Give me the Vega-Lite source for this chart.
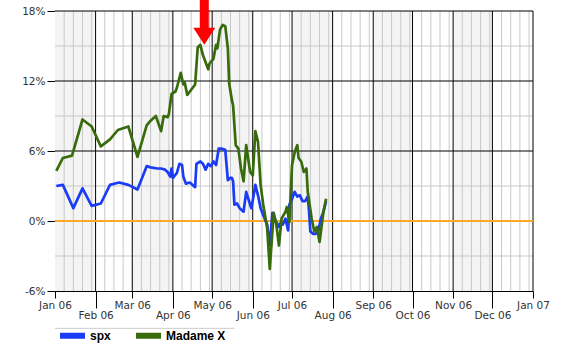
{
  "$schema": "https://vega.github.io/schema/vega-lite/v6.json",
  "width": 478,
  "height": 280,
  "autosize": {"type": "none"},
  "padding": {"left": 55, "top": 11, "right": 41, "bottom": 63},
  "background": "white",
  "config": {
    "view": {"stroke": null},
    "axis": {"labelFont": "DejaVu Sans", "labelFontSize": 10.5, "labelColor": "#333333", "domainColor": "#000000", "tickColor": "#000000", "grid": false, "title": null, "labelFlush": false, "labelOverlap": false}
  },
  "datasets": {
    "bands": [
      {"start": "2006-01-01", "end": "2006-02-01"},
      {"start": "2006-03-01", "end": "2006-04-01"},
      {"start": "2006-05-01", "end": "2006-06-01"},
      {"start": "2006-07-01", "end": "2006-08-01"},
      {"start": "2006-09-01", "end": "2006-10-01"},
      {"start": "2006-11-01", "end": "2006-12-01"}
    ],
    "minor": [
      {"d": "2006-01-08"}, {"d": "2006-01-15"}, {"d": "2006-01-22"}, {"d": "2006-01-29"},
      {"d": "2006-02-08"}, {"d": "2006-02-15"}, {"d": "2006-02-22"},
      {"d": "2006-03-08"}, {"d": "2006-03-15"}, {"d": "2006-03-22"}, {"d": "2006-03-29"},
      {"d": "2006-04-08"}, {"d": "2006-04-15"}, {"d": "2006-04-22"}, {"d": "2006-04-29"},
      {"d": "2006-05-08"}, {"d": "2006-05-15"}, {"d": "2006-05-22"}, {"d": "2006-05-29"},
      {"d": "2006-06-08"}, {"d": "2006-06-15"}, {"d": "2006-06-22"}, {"d": "2006-06-29"},
      {"d": "2006-07-08"}, {"d": "2006-07-15"}, {"d": "2006-07-22"}, {"d": "2006-07-29"},
      {"d": "2006-08-08"}, {"d": "2006-08-15"}, {"d": "2006-08-22"}, {"d": "2006-08-29"},
      {"d": "2006-09-08"}, {"d": "2006-09-15"}, {"d": "2006-09-22"}, {"d": "2006-09-29"},
      {"d": "2006-10-08"}, {"d": "2006-10-15"}, {"d": "2006-10-22"}, {"d": "2006-10-29"},
      {"d": "2006-11-08"}, {"d": "2006-11-15"}, {"d": "2006-11-22"}, {"d": "2006-11-29"},
      {"d": "2006-12-08"}, {"d": "2006-12-15"}, {"d": "2006-12-22"}, {"d": "2006-12-29"}
    ],
    "months": [
      {"d": "2006-02-01"}, {"d": "2006-03-01"}, {"d": "2006-04-01"}, {"d": "2006-05-01"},
      {"d": "2006-06-01"}, {"d": "2006-07-01"}, {"d": "2006-08-01"}, {"d": "2006-09-01"},
      {"d": "2006-10-01"}, {"d": "2006-11-01"}, {"d": "2006-12-01"}, {"d": "2007-01-01"}
    ],
    "perf": [
      {"d": "2006-01-02", "s": "spx", "v": 3.0},
      {"d": "2006-01-07", "s": "spx", "v": 3.1},
      {"d": "2006-01-15", "s": "spx", "v": 1.1},
      {"d": "2006-01-22", "s": "spx", "v": 2.8},
      {"d": "2006-01-29", "s": "spx", "v": 1.3},
      {"d": "2006-02-05", "s": "spx", "v": 1.5},
      {"d": "2006-02-12", "s": "spx", "v": 3.1},
      {"d": "2006-02-19", "s": "spx", "v": 3.3},
      {"d": "2006-02-26", "s": "spx", "v": 3.1},
      {"d": "2006-03-05", "s": "spx", "v": 2.7},
      {"d": "2006-03-12", "s": "spx", "v": 4.7},
      {"d": "2006-03-15", "s": "spx", "v": 4.6},
      {"d": "2006-03-20", "s": "spx", "v": 4.5},
      {"d": "2006-03-23", "s": "spx", "v": 4.5},
      {"d": "2006-03-26", "s": "spx", "v": 4.4},
      {"d": "2006-03-28", "s": "spx", "v": 4.2},
      {"d": "2006-03-30", "s": "spx", "v": 3.8},
      {"d": "2006-03-31", "s": "spx", "v": 4.5},
      {"d": "2006-04-01", "s": "spx", "v": 3.7},
      {"d": "2006-04-04", "s": "spx", "v": 4.1},
      {"d": "2006-04-06", "s": "spx", "v": 4.9},
      {"d": "2006-04-08", "s": "spx", "v": 4.8},
      {"d": "2006-04-09", "s": "spx", "v": 3.8},
      {"d": "2006-04-11", "s": "spx", "v": 3.2},
      {"d": "2006-04-14", "s": "spx", "v": 3.3},
      {"d": "2006-04-18", "s": "spx", "v": 2.9},
      {"d": "2006-04-19", "s": "spx", "v": 4.9},
      {"d": "2006-04-22", "s": "spx", "v": 5.1},
      {"d": "2006-04-24", "s": "spx", "v": 4.9},
      {"d": "2006-04-26", "s": "spx", "v": 4.4},
      {"d": "2006-04-28", "s": "spx", "v": 4.9},
      {"d": "2006-04-30", "s": "spx", "v": 4.7},
      {"d": "2006-05-02", "s": "spx", "v": 5.1},
      {"d": "2006-05-04", "s": "spx", "v": 4.8},
      {"d": "2006-05-06", "s": "spx", "v": 6.2},
      {"d": "2006-05-08", "s": "spx", "v": 6.2},
      {"d": "2006-05-11", "s": "spx", "v": 6.1},
      {"d": "2006-05-13", "s": "spx", "v": 3.5},
      {"d": "2006-05-15", "s": "spx", "v": 3.7},
      {"d": "2006-05-16", "s": "spx", "v": 3.7},
      {"d": "2006-05-17", "s": "spx", "v": 3.4},
      {"d": "2006-05-18", "s": "spx", "v": 1.4},
      {"d": "2006-05-20", "s": "spx", "v": 1.5},
      {"d": "2006-05-22", "s": "spx", "v": 1.1},
      {"d": "2006-05-25", "s": "spx", "v": 0.8},
      {"d": "2006-05-27", "s": "spx", "v": 2.5},
      {"d": "2006-05-30", "s": "spx", "v": 1.4},
      {"d": "2006-05-31", "s": "spx", "v": 1.1},
      {"d": "2006-06-03", "s": "spx", "v": 3.1},
      {"d": "2006-06-05", "s": "spx", "v": 2.2},
      {"d": "2006-06-07", "s": "spx", "v": 1.1},
      {"d": "2006-06-09", "s": "spx", "v": 0.5},
      {"d": "2006-06-12", "s": "spx", "v": -0.3},
      {"d": "2006-06-14", "s": "spx", "v": -2.1},
      {"d": "2006-06-16", "s": "spx", "v": 0.7},
      {"d": "2006-06-19", "s": "spx", "v": -0.1},
      {"d": "2006-06-21", "s": "spx", "v": -0.5},
      {"d": "2006-06-22", "s": "spx", "v": -0.2},
      {"d": "2006-06-24", "s": "spx", "v": -0.3},
      {"d": "2006-06-26", "s": "spx", "v": 0.2},
      {"d": "2006-06-28", "s": "spx", "v": -0.8},
      {"d": "2006-06-29", "s": "spx", "v": 1.4},
      {"d": "2006-07-01", "s": "spx", "v": 1.9},
      {"d": "2006-07-03", "s": "spx", "v": 2.5},
      {"d": "2006-07-05", "s": "spx", "v": 2.1},
      {"d": "2006-07-07", "s": "spx", "v": 2.2},
      {"d": "2006-07-09", "s": "spx", "v": 1.7},
      {"d": "2006-07-11", "s": "spx", "v": 1.7},
      {"d": "2006-07-13", "s": "spx", "v": 2.1},
      {"d": "2006-07-14", "s": "spx", "v": 0.8},
      {"d": "2006-07-15", "s": "spx", "v": -0.9},
      {"d": "2006-07-17", "s": "spx", "v": -1.1},
      {"d": "2006-07-19", "s": "spx", "v": -1.1},
      {"d": "2006-07-21", "s": "spx", "v": -0.9},
      {"d": "2006-07-23", "s": "spx", "v": 0.2},
      {"d": "2006-07-25", "s": "spx", "v": 0.8},
      {"d": "2006-07-27", "s": "spx", "v": 1.7},
      {"d": "2006-01-02", "s": "Madame X", "v": 4.3},
      {"d": "2006-01-07", "s": "Madame X", "v": 5.4},
      {"d": "2006-01-14", "s": "Madame X", "v": 5.6},
      {"d": "2006-01-22", "s": "Madame X", "v": 8.7},
      {"d": "2006-01-29", "s": "Madame X", "v": 8.1},
      {"d": "2006-02-05", "s": "Madame X", "v": 6.4},
      {"d": "2006-02-12", "s": "Madame X", "v": 7.0},
      {"d": "2006-02-18", "s": "Madame X", "v": 7.8},
      {"d": "2006-02-26", "s": "Madame X", "v": 8.1},
      {"d": "2006-03-05", "s": "Madame X", "v": 5.5},
      {"d": "2006-03-12", "s": "Madame X", "v": 8.2},
      {"d": "2006-03-15", "s": "Madame X", "v": 8.6},
      {"d": "2006-03-19", "s": "Madame X", "v": 9.0},
      {"d": "2006-03-23", "s": "Madame X", "v": 7.7},
      {"d": "2006-03-25", "s": "Madame X", "v": 9.0},
      {"d": "2006-03-28", "s": "Madame X", "v": 8.9},
      {"d": "2006-03-29", "s": "Madame X", "v": 9.2},
      {"d": "2006-03-31", "s": "Madame X", "v": 10.9},
      {"d": "2006-04-03", "s": "Madame X", "v": 11.1},
      {"d": "2006-04-04", "s": "Madame X", "v": 11.4},
      {"d": "2006-04-07", "s": "Madame X", "v": 12.7},
      {"d": "2006-04-09", "s": "Madame X", "v": 11.7},
      {"d": "2006-04-10", "s": "Madame X", "v": 11.9},
      {"d": "2006-04-12", "s": "Madame X", "v": 10.8},
      {"d": "2006-04-14", "s": "Madame X", "v": 11.1},
      {"d": "2006-04-18", "s": "Madame X", "v": 11.7},
      {"d": "2006-04-20", "s": "Madame X", "v": 14.9},
      {"d": "2006-04-22", "s": "Madame X", "v": 15.1},
      {"d": "2006-04-24", "s": "Madame X", "v": 14.2},
      {"d": "2006-04-28", "s": "Madame X", "v": 13.0},
      {"d": "2006-04-29", "s": "Madame X", "v": 13.5},
      {"d": "2006-05-02", "s": "Madame X", "v": 13.9},
      {"d": "2006-05-04", "s": "Madame X", "v": 15.1},
      {"d": "2006-05-05", "s": "Madame X", "v": 14.8},
      {"d": "2006-05-07", "s": "Madame X", "v": 16.4},
      {"d": "2006-05-09", "s": "Madame X", "v": 16.8},
      {"d": "2006-05-11", "s": "Madame X", "v": 16.7},
      {"d": "2006-05-13", "s": "Madame X", "v": 14.8},
      {"d": "2006-05-14", "s": "Madame X", "v": 11.8},
      {"d": "2006-05-16", "s": "Madame X", "v": 10.4},
      {"d": "2006-05-17", "s": "Madame X", "v": 9.9},
      {"d": "2006-05-19", "s": "Madame X", "v": 6.5},
      {"d": "2006-05-21", "s": "Madame X", "v": 6.2},
      {"d": "2006-05-23", "s": "Madame X", "v": 4.5},
      {"d": "2006-05-25", "s": "Madame X", "v": 3.4},
      {"d": "2006-05-27", "s": "Madame X", "v": 6.5},
      {"d": "2006-05-30", "s": "Madame X", "v": 4.2},
      {"d": "2006-06-01", "s": "Madame X", "v": 3.9},
      {"d": "2006-06-03", "s": "Madame X", "v": 7.7},
      {"d": "2006-06-05", "s": "Madame X", "v": 6.8},
      {"d": "2006-06-07", "s": "Madame X", "v": 3.1},
      {"d": "2006-06-09", "s": "Madame X", "v": 1.4},
      {"d": "2006-06-12", "s": "Madame X", "v": -0.6},
      {"d": "2006-06-14", "s": "Madame X", "v": -4.1},
      {"d": "2006-06-17", "s": "Madame X", "v": 0.7},
      {"d": "2006-06-19", "s": "Madame X", "v": -0.3},
      {"d": "2006-06-21", "s": "Madame X", "v": -2.1},
      {"d": "2006-06-23", "s": "Madame X", "v": 0.2},
      {"d": "2006-06-26", "s": "Madame X", "v": 0.8},
      {"d": "2006-06-27", "s": "Madame X", "v": 1.2},
      {"d": "2006-06-29", "s": "Madame X", "v": -0.1},
      {"d": "2006-07-01", "s": "Madame X", "v": 4.8},
      {"d": "2006-07-03", "s": "Madame X", "v": 5.9},
      {"d": "2006-07-05", "s": "Madame X", "v": 6.5},
      {"d": "2006-07-06", "s": "Madame X", "v": 5.4},
      {"d": "2006-07-08", "s": "Madame X", "v": 5.1},
      {"d": "2006-07-10", "s": "Madame X", "v": 4.2},
      {"d": "2006-07-12", "s": "Madame X", "v": 4.5},
      {"d": "2006-07-13", "s": "Madame X", "v": 2.5},
      {"d": "2006-07-16", "s": "Madame X", "v": 0.2},
      {"d": "2006-07-18", "s": "Madame X", "v": -0.9},
      {"d": "2006-07-20", "s": "Madame X", "v": -0.5},
      {"d": "2006-07-22", "s": "Madame X", "v": -1.8},
      {"d": "2006-07-24", "s": "Madame X", "v": -0.1},
      {"d": "2006-07-25", "s": "Madame X", "v": 0.8},
      {"d": "2006-07-27", "s": "Madame X", "v": 1.9}
    ],
    "marker": [{"d": "2006-04-25", "v": 15.1}]
  },
  "resolve": {"axis": {"x": "independent"}},
  "layer": [
    {
      "data": {"name": "bands"},
      "mark": {"type": "rect", "color": "#f4f4f4"},
      "encoding": {
        "x": {"field": "start", "type": "temporal",
          "scale": {"type": "utc", "domain": [{"year": 2006, "month": 1, "date": 1, "utc": true}, {"year": 2007, "month": 1, "date": 1, "utc": true}], "nice": false},
          "axis": {"orient": "bottom", "format": "%b %y", "tickSize": 7, "labelPadding": 2, "domain": true,
            "values": [{"year": 2006, "month": 1, "date": 1, "utc": true}, {"year": 2006, "month": 3, "date": 1, "utc": true}, {"year": 2006, "month": 5, "date": 1, "utc": true}, {"year": 2006, "month": 7, "date": 1, "utc": true}, {"year": 2006, "month": 9, "date": 1, "utc": true}, {"year": 2006, "month": 11, "date": 1, "utc": true}, {"year": 2007, "month": 1, "date": 1, "utc": true}]}},
        "x2": {"field": "end"}
      }
    },
    {
      "data": {"name": "minor"},
      "mark": {"type": "rule", "color": "#c8c8c8", "strokeWidth": 1},
      "encoding": {
        "x": {"field": "d", "type": "temporal",
          "scale": {"type": "utc", "domain": [{"year": 2006, "month": 1, "date": 1, "utc": true}, {"year": 2007, "month": 1, "date": 1, "utc": true}], "nice": false},
          "axis": {"orient": "bottom", "format": "%b %y", "tickSize": 17, "labelPadding": 2, "domain": false,
            "values": [{"year": 2006, "month": 2, "date": 1, "utc": true}, {"year": 2006, "month": 4, "date": 1, "utc": true}, {"year": 2006, "month": 6, "date": 1, "utc": true}, {"year": 2006, "month": 8, "date": 1, "utc": true}, {"year": 2006, "month": 10, "date": 1, "utc": true}, {"year": 2006, "month": 12, "date": 1, "utc": true}]}}
      }
    },
    {
      "data": {"values": [{"v": -3}, {"v": 3}, {"v": 9}, {"v": 15}]},
      "mark": {"type": "rule", "color": "#c8c8c8", "strokeWidth": 1},
      "encoding": {
        "y": {"field": "v", "type": "quantitative",
          "scale": {"domain": [-6, 18], "nice": false, "zero": false},
          "axis": {"values": [-6, 0, 6, 12, 18], "labelExpr": "datum.value + '%'", "tickSize": 8, "labelPadding": 2}}
      }
    },
    {
      "data": {"name": "months"},
      "mark": {"type": "rule", "color": "#000000", "strokeWidth": 1},
      "encoding": {
        "x": {"field": "d", "type": "temporal", "axis": null,
          "scale": {"type": "utc", "domain": [{"year": 2006, "month": 1, "date": 1, "utc": true}, {"year": 2007, "month": 1, "date": 1, "utc": true}], "nice": false}}
      }
    },
    {
      "data": {"values": [{"v": 6}, {"v": 12}, {"v": 18}]},
      "mark": {"type": "rule", "color": "#000000", "strokeWidth": 1},
      "encoding": {
        "y": {"field": "v", "type": "quantitative", "scale": {"domain": [-6, 18], "nice": false, "zero": false}}
      }
    },
    {
      "data": {"values": [{}]},
      "mark": {"type": "rule", "color": "#ffa726", "strokeWidth": 2},
      "encoding": {
        "y": {"datum": 0, "type": "quantitative", "scale": {"domain": [-6, 18], "nice": false, "zero": false}}
      }
    },
    {
      "data": {"name": "perf"},
      "mark": {"type": "line", "strokeWidth": 2.7, "strokeJoin": "round"},
      "encoding": {
        "x": {"field": "d", "type": "temporal", "axis": null,
          "scale": {"type": "utc", "domain": [{"year": 2006, "month": 1, "date": 1, "utc": true}, {"year": 2007, "month": 1, "date": 1, "utc": true}], "nice": false}},
        "y": {"field": "v", "type": "quantitative", "scale": {"domain": [-6, 18], "nice": false, "zero": false}},
        "color": {"field": "s", "type": "nominal",
          "scale": {"domain": ["spx", "Madame X"], "range": ["#1a3cf5", "#386b0b"]},
          "legend": {"title": null, "orient": "none", "legendX": 2, "legendY": 309, "direction": "horizontal",
            "symbolType": "stroke", "symbolSize": 625, "symbolStrokeWidth": 6, "symbolOpacity": 1,
            "labelFont": "Liberation Sans", "labelFontSize": 12, "labelFontWeight": "bold", "labelColor": "#000000",
            "labelOffset": 2, "columnPadding": 13, "padding": 0}}
      }
    },
    {
      "data": {"name": "marker"},
      "mark": {"type": "point", "shape": "M0,0L-11,-17L-4.5,-17L-4.5,-45L4.5,-45L4.5,-17L11,-17Z", "size": 4, "filled": true, "color": "#ff0000", "opacity": 1, "strokeWidth": 0},
      "encoding": {
        "x": {"field": "d", "type": "temporal", "axis": null,
          "scale": {"type": "utc", "domain": [{"year": 2006, "month": 1, "date": 1, "utc": true}, {"year": 2007, "month": 1, "date": 1, "utc": true}], "nice": false}},
        "y": {"field": "v", "type": "quantitative", "scale": {"domain": [-6, 18], "nice": false, "zero": false}}
      }
    },
    {
      "data": {"values": [{}]},
      "mark": {"type": "rule", "color": "#cccccc", "strokeWidth": 1},
      "encoding": {
        "x": {"datum": {"year": 2006, "month": 1, "date": 1, "utc": true}, "type": "temporal", "axis": null,
          "scale": {"type": "utc", "domain": [{"year": 2006, "month": 1, "date": 1, "utc": true}, {"year": 2007, "month": 1, "date": 1, "utc": true}], "nice": false}},
        "x2": {"datum": {"year": 2006, "month": 5, "date": 18, "utc": true}},
        "y": {"datum": -9.2, "type": "quantitative", "scale": {"domain": [-6, 18], "nice": false, "zero": false}}
      }
    }
  ]
}
